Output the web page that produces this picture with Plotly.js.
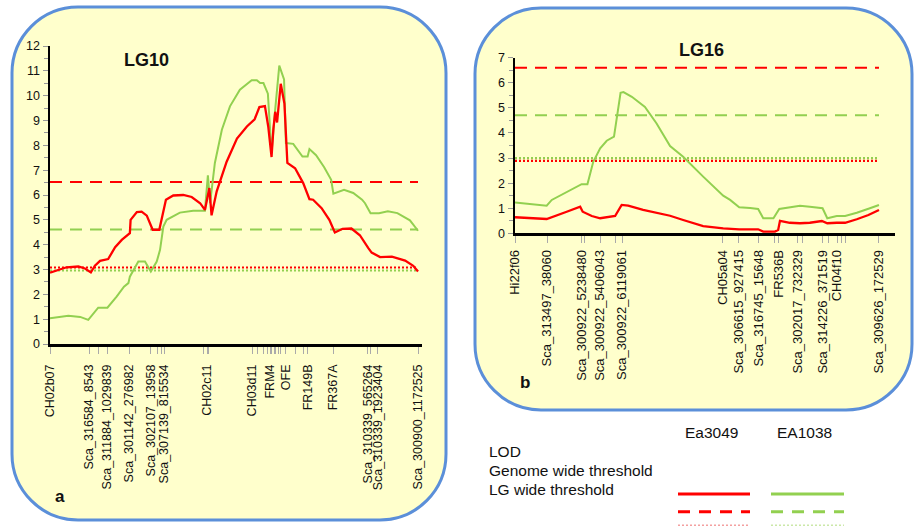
<!DOCTYPE html>
<html><head><meta charset="utf-8">
<script src="https://cdn.plot.ly/plotly-3.0.1.min.js"></script>
<style>html,body{margin:0;padding:0;background:#fff}#chart{width:919px;height:526px}</style>
</head><body><div id="chart"></div>
<script>
// ---------- LG10 (panel a) ----------
const lg10MarkerNames = ["CH02b07","Sca_316584_8543","Sca_311884_1029839","Sca_301142_276982","Sca_302107_13958","Sca_307139_815534","CH02c11","CH03d11","FRM4","OFE","FR149B","FR367A","Sca_310339_565264","Sca_310339_1923404","Sca_300900_1172525"];
const lg10MarkerPos = [0,10.6,15.5,21.5,27.4,31.0,42.7,54.9,59.8,64.1,70.1,76.9,86.4,89.1,100];
const lg10OtherMarkerPos = [13.3,29.3,30.2,41.8,43.2,56.5,57.9,59.2,60.3,60.9,61.4,62.0,62.5,66.6,68.8,87.2];

const lg10Ea3049X = [0,4.5,7.7,9.5,11.1,12.2,13.6,15.8,17.7,19.5,21.7,21.9,23.6,24.9,26.3,27.9,29.7,31.5,33.5,36.2,38.5,40.8,42.1,43.3,43.9,45.3,48.0,50.8,53.5,55.6,56.9,58.4,59.3,60.2,60.7,61.2,61.7,62.7,63.7,64.5,66.6,68.8,70.5,71.5,73.8,75.9,77.4,79.5,81.9,84.2,86.5,87.4,89.7,92.9,96.5,98.7,100];
const lg10Ea3049Y = [2.87,3.09,3.12,3.04,2.88,3.15,3.35,3.42,3.90,4.19,4.46,5.00,5.31,5.33,5.17,4.60,4.60,5.81,5.98,6.00,5.92,5.67,5.40,6.28,5.18,6.15,7.34,8.27,8.76,9.05,9.54,9.58,8.76,7.53,8.66,9.35,8.92,10.48,9.68,7.29,7.08,6.48,5.83,5.81,5.47,5.00,4.49,4.64,4.65,4.38,3.86,3.68,3.50,3.52,3.36,3.15,2.92];

const lg10EA1038X = [0,5.0,8.2,10.4,13.1,15.6,18.1,20.1,21.3,21.7,24.0,25.8,27.4,29.0,29.9,30.8,31.7,35.3,38.9,42.1,42.9,43.5,44.8,46.7,48.9,51.6,54.8,56.2,57.1,58.0,59.2,60.2,61.1,62.3,63.6,64.1,66.1,68.6,70.0,70.5,72.3,74.5,76.4,77.0,79.9,82.4,84.8,85.6,87.1,89.4,91.8,94.4,97.8,100];
const lg10EA1038Y = [1.04,1.14,1.09,0.97,1.46,1.46,1.91,2.31,2.45,2.71,3.32,3.32,2.92,3.32,3.79,4.73,5.00,5.29,5.37,5.37,6.79,5.67,7.29,8.63,9.57,10.24,10.62,10.62,10.51,10.51,10.08,7.70,9.30,11.21,10.65,8.09,8.06,7.55,7.55,7.85,7.60,7.12,6.61,6.05,6.21,6.08,5.81,5.67,5.27,5.27,5.34,5.27,4.98,4.56];

const lg10GenomeWide = {Ea3049: 6.52, EA1038: 4.61};
const lg10LGWide = {Ea3049: 3.08, EA1038: 2.96};

// ---------- LG16 (panel b) ----------
const lg16MarkerNames = ["Hi22f06","Sca_313497_38060","Sca_300922_5238480","Sca_300922_5406043","Sca_300922_6119061","CH05a04","Sca_306615_927415","Sca_316745_15648","FR536B","Sca_302017_732329","Sca_314226_371519","CH04f10","Sca_309626_172529"];
const lg16MarkerPos = [0,8.8,18.4,23.4,29.4,57.1,61.5,67.0,72.5,77.7,84.6,88.5,100];
const lg16OtherMarkerPos = [19.2,27.5,71.4,79.1,86.0,89.8,90.7];

const lg16Ea3049X = [0,8.7,14.2,17.9,18.6,21.1,23.4,27.5,29.3,31.1,35.2,42.6,46.2,51.7,57.2,61.6,66.8,68.2,71.4,72.3,72.8,75.5,78.3,81.0,84.3,85.8,88.4,90.7,93.9,97.1,100];
const lg16Ea3049Y = [0.64,0.57,0.86,1.06,0.86,0.69,0.60,0.69,1.13,1.10,0.93,0.70,0.53,0.29,0.20,0.16,0.16,0.07,0.07,0.13,0.50,0.42,0.40,0.42,0.49,0.40,0.42,0.42,0.56,0.73,0.93];

const lg16EA1038X = [0,8.7,10.1,14.2,18.3,19.9,21.5,23.4,25.2,27.2,29.0,29.8,32.1,35.7,38.9,42.6,46.2,51.7,57.2,59.1,61.6,64.6,66.8,68.2,71.0,72.6,75.5,78.3,81.0,84.5,85.8,88.4,90.7,93.9,97.5,100];
const lg16EA1038Y = [1.23,1.10,1.33,1.63,1.96,1.96,2.85,3.39,3.69,3.85,5.60,5.63,5.44,5.04,4.38,3.48,3.05,2.26,1.50,1.33,1.04,1.01,0.97,0.60,0.60,0.97,1.04,1.10,1.06,1.00,0.60,0.69,0.69,0.82,1.00,1.13];

const lg16GenomeWide = {Ea3049: 6.60, EA1038: 4.71};
const lg16LGWide = {Ea3049: 2.89, EA1038: 3.00};

// ---------- styling ----------
const W = 919, H = 526;
const RED = "#FF0000", GREEN = "#92D050";
const FONT = "Liberation Sans, Arial, sans-serif";
const X = px => px / W, Y = py => 1 - py / H;

function roundRect(x0, y0, x1, y1, r) {
  const k = 0.5523 * r;
  const p = (a, b) => X(a).toFixed(5) + "," + Y(b).toFixed(5);
  return "M" + p(x0 + r, y0) + " L" + p(x1 - r, y0) +
    " C" + p(x1 - r + k, y0) + " " + p(x1, y0 + r - k) + " " + p(x1, y0 + r) +
    " L" + p(x1, y1 - r) +
    " C" + p(x1, y1 - r + k) + " " + p(x1 - r + k, y1) + " " + p(x1 - r, y1) +
    " L" + p(x0 + r, y1) +
    " C" + p(x0 + r - k, y1) + " " + p(x0, y1 - r + k) + " " + p(x0, y1 - r) +
    " L" + p(x0, y0 + r) +
    " C" + p(x0, y0 + r - k) + " " + p(x0 + r - k, y0) + " " + p(x0 + r, y0) + " Z";
}

function hline(xa, ya, val, color, dash, width) {
  return {x: [0, 100], y: [val, val], xaxis: xa, yaxis: ya, mode: "lines",
    line: {color: color, dash: dash, width: width}, hoverinfo: "skip", showlegend: false};
}
function curve(xa, ya, xs, ys, color, width) {
  return {x: xs, y: ys, xaxis: xa, yaxis: ya, mode: "lines",
    line: {color: color, width: width}, showlegend: false};
}

const traces = [
  hline("x", "y", lg10LGWide.EA1038, GREEN, "2px,2px", 2.2),
  hline("x", "y", lg10LGWide.Ea3049, RED, "2px,2px", 2.2),
  hline("x", "y", lg10GenomeWide.EA1038, GREEN, "12px,8px", 2),
  hline("x", "y", lg10GenomeWide.Ea3049, RED, "12px,8px", 2),
  curve("x", "y", lg10EA1038X, lg10EA1038Y, GREEN, 2),
  curve("x", "y", lg10Ea3049X, lg10Ea3049Y, RED, 2.3),
  hline("x2", "y2", lg16LGWide.EA1038, GREEN, "2px,2px", 2.2),
  hline("x2", "y2", lg16LGWide.Ea3049, RED, "2px,2px", 2.2),
  hline("x2", "y2", lg16GenomeWide.EA1038, GREEN, "12px,8px", 2),
  hline("x2", "y2", lg16GenomeWide.Ea3049, RED, "12px,8px", 2),
  curve("x2", "y2", lg16EA1038X, lg16EA1038Y, GREEN, 2),
  curve("x2", "y2", lg16Ea3049X, lg16Ea3049Y, RED, 2.3)
];

function xAxis(names, pos, other, domain, range, fsize, standoff) {
  const vals = pos.concat(other);
  const txt = names.concat(other.map(() => ""));
  return {domain: domain, range: range, showgrid: false, zeroline: false,
    showline: true, linecolor: "#000", linewidth: 2.5,
    tickmode: "array", tickvals: vals, ticktext: txt, tickangle: -90,
    ticks: "outside", ticklen: 7, tickwidth: 1, tickcolor: "#aaa",
    ticklabelstandoff: standoff,
    tickfont: {family: FONT, size: fsize, color: "#111"}, fixedrange: true};
}
function yAxis(domain, range, anchor) {
  return {domain: domain, range: range, anchor: anchor, showgrid: false, zeroline: false,
    showline: true, linecolor: "#000", linewidth: 2.5, dtick: 1,
    ticks: "outside", ticklen: 5, tickwidth: 1, tickcolor: "#999",
    minor: {dtick: 0.5, ticks: "outside", ticklen: 4, tickcolor: "#999"},
    tickfont: {family: FONT, size: 12.5, color: "#111"}, fixedrange: true};
}

const shapes = [
  {type: "path", xref: "paper", yref: "paper", path: roundRect(12, 7, 446, 520, 66),
   fillcolor: "#FFFFCC", line: {color: "#5B8FD9", width: 3}, layer: "below"},
  {type: "path", xref: "paper", yref: "paper", path: roundRect(475, 8, 912, 410, 66),
   fillcolor: "#FFFFCC", line: {color: "#5B8FD9", width: 3}, layer: "below"},
  // legend keys
  {type: "line", xref: "paper", yref: "paper", x0: X(678), x1: X(750), y0: Y(494), y1: Y(494), line: {color: RED, width: 3}},
  {type: "line", xref: "paper", yref: "paper", x0: X(771), x1: X(844), y0: Y(494), y1: Y(494), line: {color: GREEN, width: 3}},
  {type: "line", xref: "paper", yref: "paper", x0: X(678), x1: X(750), y0: Y(511.7), y1: Y(511.7), line: {color: RED, width: 3, dash: "12px,9px"}},
  {type: "line", xref: "paper", yref: "paper", x0: X(771), x1: X(844), y0: Y(511.7), y1: Y(511.7), line: {color: GREEN, width: 3, dash: "12px,9px"}},
  {type: "line", xref: "paper", yref: "paper", x0: X(678), x1: X(750), y0: Y(525.5), y1: Y(525.5), line: {color: "#F4A0A0", width: 2, dash: "2px,2px"}},
  {type: "line", xref: "paper", yref: "paper", x0: X(771), x1: X(844), y0: Y(525.5), y1: Y(525.5), line: {color: "#CBE8A8", width: 2, dash: "2px,2px"}}
];

function note(text, px, py, size, anchor) {
  return {text: text, xref: "paper", yref: "paper", x: X(px), y: Y(py),
    xanchor: anchor || "center", yanchor: "middle", showarrow: false,
    font: {family: FONT, size: size, color: "#111"}};
}
const annotations = [
  note("<b>LG10</b>", 146, 60, 18),
  note("<b>LG16</b>", 701, 50, 18),
  note("<b>a</b>", 60, 496, 17),
  note("<b>b</b>", 525, 382, 17),
  note("Ea3049", 711, 432, 15.5),
  note("EA1038", 804, 432, 15.5),
  note("LOD", 487, 451, 15.5, "left"),
  note("Genome wide threshold", 487, 470.5, 15.5, "left"),
  note("LG wide threshold", 487, 489.5, 15.5, "left")
];

const layout = {
  width: W, height: H, margin: {l: 0, r: 0, t: 0, b: 0},
  paper_bgcolor: "#fff", plot_bgcolor: "rgba(0,0,0,0)", showlegend: false,
  xaxis: xAxis(lg10MarkerNames, lg10MarkerPos, lg10OtherMarkerPos, [50 / W, 421.7 / W], [0, 101], 12.5, 6),
  yaxis: yAxis([1 - 344 / H, 1 - 46 / H], [0, 12], "x"),
  xaxis2: Object.assign(xAxis(lg16MarkerNames, lg16MarkerPos, lg16OtherMarkerPos, [515 / W, 895 / W], [0, 104.4], 13, 2), {anchor: "y2"}),
  yaxis2: yAxis([1 - 233.3 / H, 1 - 57.7 / H], [0, 7], "x2"),
  shapes: shapes, annotations: annotations
};
layout.xaxis.anchor = "y";

Plotly.newPlot("chart", traces, layout, {displayModeBar: false, staticPlot: true});
</script></body></html>
